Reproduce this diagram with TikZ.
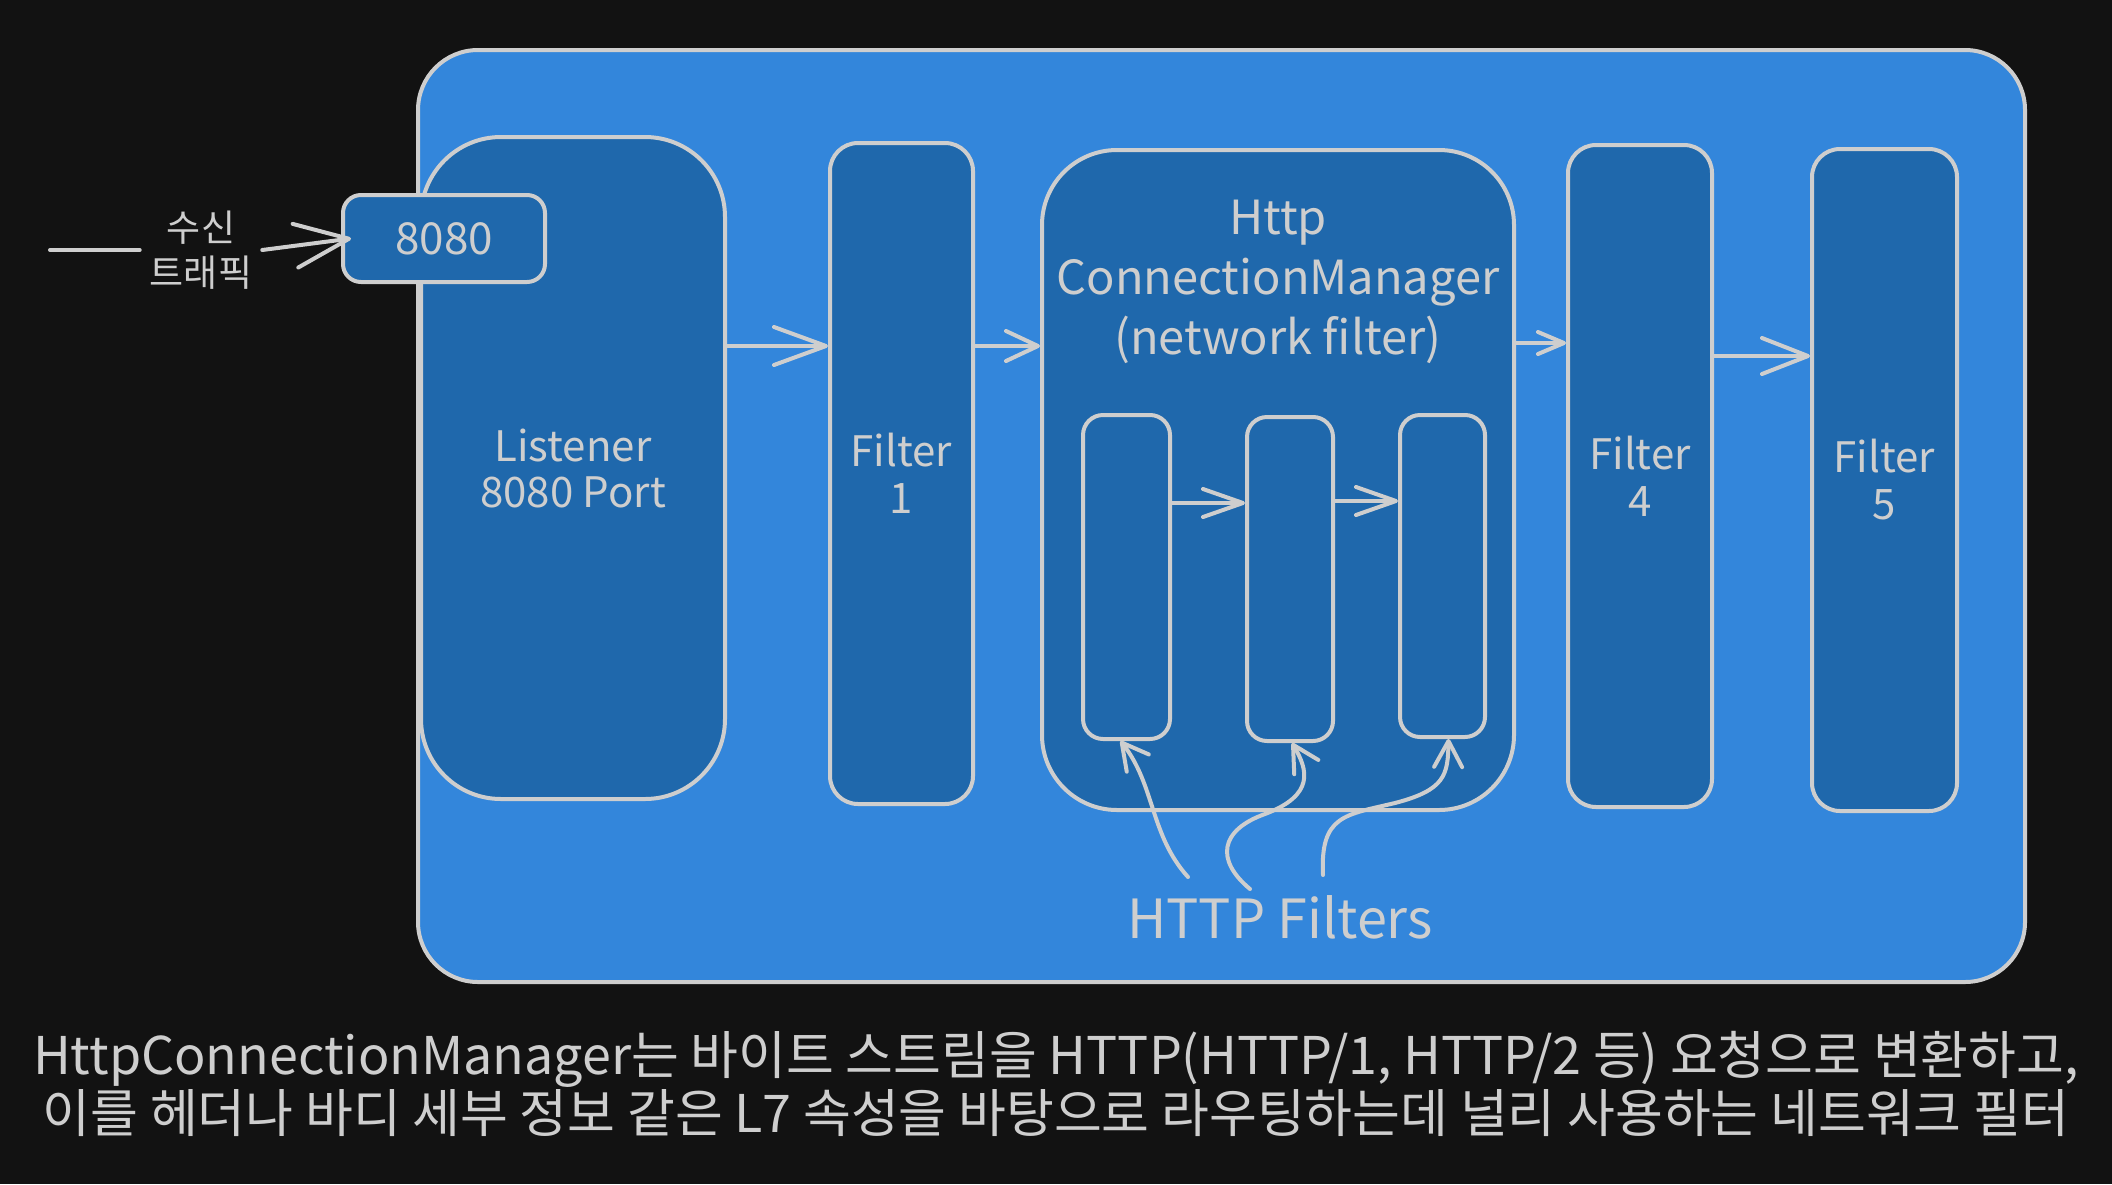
\documentclass[tikz,border=0pt]{standalone}
\usepackage{fontspec}
\setmainfont{Noto Sans CJK KR}
\usetikzlibrary{arrows.meta,positioning}

\definecolor{bgdark}{HTML}{121212}
\definecolor{skyblue}{HTML}{3386DB}
\definecolor{deepblue}{HTML}{1F68AC}
\definecolor{edge}{HTML}{CECECE}

\begin{document}
\begin{tikzpicture}[x=1pt, y=-1pt,
    box/.style={draw=edge, line width=4pt, fill=deepblue, rounded corners=#1, inner sep=0pt},
    box/.default=28pt,
    lbl/.style={text=edge, align=center, inner sep=2pt},
    flow/.style 2 args={draw=edge, line width=4pt, line cap=round, line join=round,
        -{Straight Barb[length=#1, width=#2, round]}}
]
    % canvas
    \fill[bgdark] (0,0) rectangle (2112,1184);
    \useasboundingbox (0,0) rectangle (2112,1184);

    % envoy frame
    \node[draw=edge, line width=4pt, fill=skyblue, rounded corners=60pt,
        minimum width=1607pt, minimum height=932pt] (envoy) at (1221.5,516) {};

    % listener and filter chain
    \node[box=80pt, minimum width=304pt, minimum height=662pt, lbl,
        font=\fontsize{42}{46}\selectfont] (listener) at (573,468) {Listener\\8080 Port};
    \node[box=18pt, minimum width=202pt, minimum height=87pt, lbl,
        font=\fontsize{44}{46}\selectfont] (port) at (444,238.5) {8080};
    \node[box, minimum width=143pt, minimum height=661pt, lbl,
        font=\fontsize{42}{47}\selectfont] (filter1) at (901.5,473.5) {Filter\\1};
    \node[box=75pt, minimum width=472pt, minimum height=660pt] (hcm) at (1278,480) {};
    \node[box, minimum width=144pt, minimum height=662pt, lbl,
        font=\fontsize{42}{47}\selectfont] (filter4) at (1640,476) {Filter\\4};
    \node[box, minimum width=145pt, minimum height=662pt, lbl,
        font=\fontsize{42}{47}\selectfont] (filter5) at (1884.5,480) {Filter\\5};

    \node[lbl, font=\fontsize{47}{60}\selectfont] (hcmtitle) at (1278,282)
        {Http\\ConnectionManager\\(network filter)};

    % http filters
    \node[box=20pt, minimum width=87pt, minimum height=324pt] (http1) at (1126.5,577) {};
    \node[box=20pt, minimum width=86pt, minimum height=324pt] (http2) at (1290,579) {};
    \node[box=20pt, minimum width=85pt, minimum height=322pt] (http3) at (1442.5,576) {};

    \node[lbl, font=\fontsize{54}{58}\selectfont] (httplbl) at (1280,917) {HTTP Filters};

    % incoming traffic
    \coordinate (src) at (50,250);
    \node[lbl, inner sep=10pt, font=\fontsize{37}{45}\selectfont] (traffic) at (201,250) {수신\\트래픽};

    \coordinate (row1) at (0,346);
    \coordinate (row2) at (0,343);
    \coordinate (row3) at (0,356);
    \coordinate (row4) at (0,503);

    \draw[flow={0pt}{0pt}, -] (src) -- (src -| traffic.west);
    \draw[flow={54pt}{44pt}] (traffic.east |- src) -- ([xshift=10pt]port.west);

    \draw[flow={52pt}{38pt}] (listener.east |- row1) -- (filter1.west |- row1);
    \draw[flow={32pt}{30pt}] (filter1.east |- row1) -- (hcm.west |- row1);
    \draw[flow={26pt}{22pt}] (hcm.east |- row2) -- (filter4.west |- row2);
    \draw[flow={46pt}{36pt}] (filter4.east |- row3) -- (filter5.west |- row3);

    \draw[flow={40pt}{28pt}] (http1.east |- row4) -- (http2.west |- row4);
    \draw[flow={40pt}{28pt}] ([yshift=2pt]http2.east |- row4) -- ([yshift=2pt]http3.west |- row4);

    % pointers from the caption
    \coordinate (tail1) at (1188,877);
    \coordinate (tail2) at (1250,889);
    \coordinate (tail3) at (1323,875);
    \draw[flow={26pt}{28pt}] (tail1) .. controls (1150,835) and (1155,785) .. ([xshift=-6pt]http1.south);
    \draw[flow={26pt}{28pt}] (tail2) .. controls (1215,860) and (1220,830) .. (1265,814)
        .. controls (1315,795) and (1308,770) .. ([xshift=2pt]http2.south);
    \draw[flow={26pt}{28pt}] (tail3) .. controls (1320,815) and (1345,815) .. (1395,803)
        .. controls (1445,790) and (1448,775) .. ([xshift=6pt]http3.south);

    % caption
    \node[lbl, font=\fontsize{52}{58}\selectfont] (caption) at (1056,1084)
        {HttpConnectionManager는 바이트 스트림을 HTTP(HTTP/1, HTTP/2 등) 요청으로 변환하고,\\
         이를 헤더나 바디 세부 정보 같은 L7 속성을 바탕으로 라우팅하는데 널리 사용하는 네트워크 필터};
\end{tikzpicture}
\end{document}
